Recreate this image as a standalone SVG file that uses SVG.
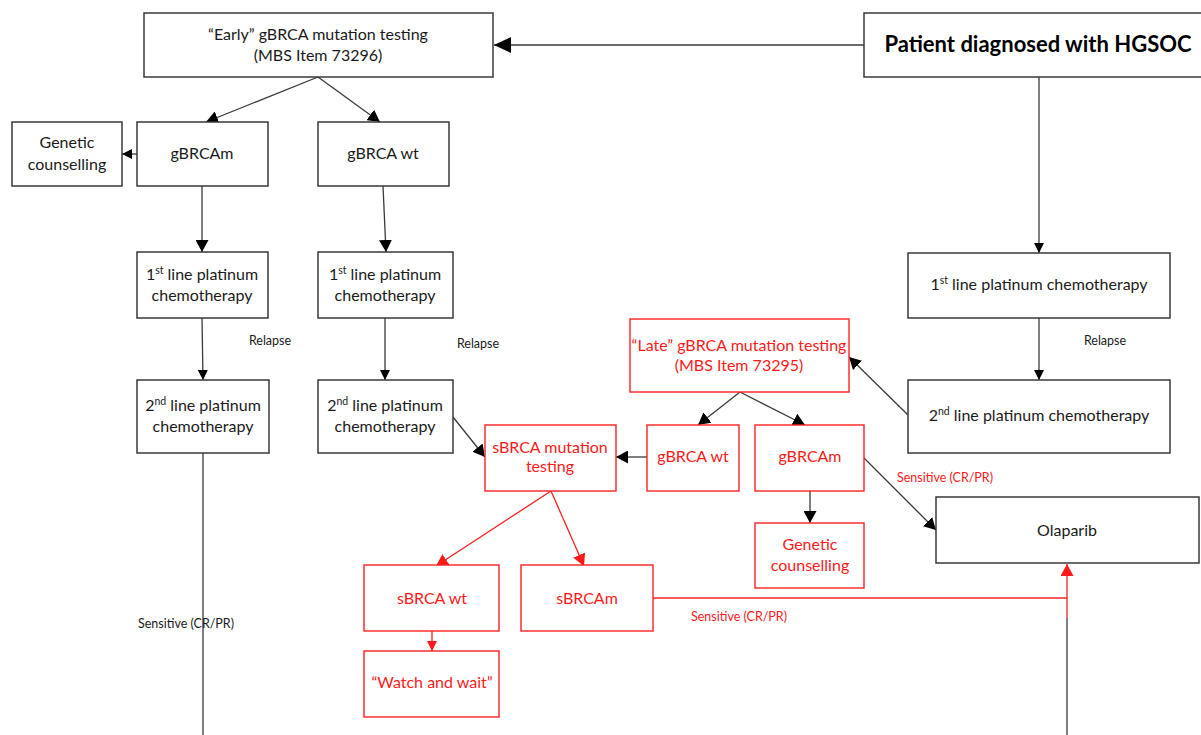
<svg xmlns="http://www.w3.org/2000/svg" width="1201" height="735" viewBox="0 0 1201 735">
<style>
.box{fill:#fff;stroke:#3a3a3a;stroke-width:1.5}
.rbox{fill:#fff;stroke:#ff2020;stroke-width:1.4}
.t{font-family:Lato,"Open Sans",sans-serif;font-size:16px;fill:#1a1a1a;text-anchor:middle}
.rt{font-family:Lato,"Open Sans",sans-serif;font-size:16px;fill:#ff1a1a;text-anchor:middle}
.lbl{font-family:Lato,"Open Sans",sans-serif;font-size:12.5px;fill:#1a1a1a;text-anchor:middle}
.rlbl{font-family:Lato,"Open Sans",sans-serif;font-size:12.5px;fill:#ff1a1a;text-anchor:middle}
.c{stroke:#3a3a3a;stroke-width:1.3;fill:none}
.rc{stroke:#ff2020;stroke-width:1.3;fill:none}
</style>
<defs>
<marker id="aL" markerUnits="userSpaceOnUse" markerWidth="18" markerHeight="16" refX="17" refY="8" orient="auto"><path d="M0,0 L17,8 L0,16 z" fill="#000"/></marker>
<marker id="aM" markerUnits="userSpaceOnUse" markerWidth="13" markerHeight="13" refX="12" refY="6.5" orient="auto"><path d="M0,0 L12,6.5 L0,13 z" fill="#000"/></marker>
<marker id="aS" markerUnits="userSpaceOnUse" markerWidth="11" markerHeight="10" refX="10" refY="5" orient="auto"><path d="M0,0 L10,5 L0,10 z" fill="#000"/></marker>
<marker id="rM" markerUnits="userSpaceOnUse" markerWidth="13" markerHeight="13" refX="12" refY="6.5" orient="auto"><path d="M0,0 L12,6.5 L0,13 z" fill="#ff1a1a"/></marker>
<marker id="rS" markerUnits="userSpaceOnUse" markerWidth="11" markerHeight="10" refX="10" refY="5" orient="auto"><path d="M0,0 L10,5 L0,10 z" fill="#ff1a1a"/></marker>
</defs>
<rect width="1201" height="735" fill="#fff"/>

<g id="connectors">
<line class="c" x1="864" y1="45" x2="494" y2="45" marker-end="url(#aL)"/>
<line class="c" x1="318" y1="77" x2="206" y2="122" marker-end="url(#aM)"/>
<line class="c" x1="318" y1="77" x2="380" y2="122" marker-end="url(#aM)"/>
<line class="c" x1="137" y1="154" x2="122" y2="154" marker-end="url(#aS)"/>
<line class="c" x1="202" y1="186" x2="202" y2="252" marker-end="url(#aM)"/>
<line class="c" x1="383" y1="186" x2="386" y2="252" marker-end="url(#aM)"/>
<line class="c" x1="202" y1="318" x2="203" y2="380" marker-end="url(#aS)"/>
<line class="c" x1="385" y1="318" x2="385" y2="380" marker-end="url(#aS)"/>
<line class="c" x1="453" y1="417" x2="485" y2="457" marker-end="url(#aM)"/>
<line class="c" x1="203" y1="453" x2="203" y2="735"/>
<line class="c" x1="1039" y1="77" x2="1039" y2="253" marker-end="url(#aS)"/>
<line class="c" x1="1039" y1="318" x2="1039" y2="380" marker-end="url(#aS)"/>
<line class="c" x1="908" y1="415" x2="849" y2="357" marker-end="url(#aM)"/>
<line class="c" x1="740" y1="392" x2="698" y2="425" marker-end="url(#aM)"/>
<line class="c" x1="740" y1="392" x2="805" y2="425" marker-end="url(#aM)"/>
<line class="c" x1="647" y1="457" x2="616" y2="457" marker-end="url(#aM)"/>
<line class="c" x1="810" y1="490" x2="810" y2="523" marker-end="url(#aM)"/>
<line class="c" x1="864" y1="458" x2="936" y2="530" marker-end="url(#aM)"/>
<line class="rc" x1="551" y1="491" x2="436" y2="566" marker-end="url(#rM)"/>
<line class="rc" x1="551" y1="491" x2="584" y2="566" marker-end="url(#rM)"/>
<line class="rc" x1="432" y1="631" x2="432" y2="651" marker-end="url(#rS)"/>
<line class="c" x1="1067" y1="735" x2="1067" y2="618"/>
<polyline class="rc" points="653,598 1067,598"/>
<line class="rc" x1="1067" y1="618" x2="1067" y2="564" marker-end="url(#rM)"/>
<text class="lbl" x="270" y="345">Relapse</text>
<text class="lbl" x="478" y="348">Relapse</text>
<text class="lbl" x="1105" y="345">Relapse</text>
<text class="lbl" x="186" y="628">Sensitive (CR/PR)</text>
<text class="rlbl" x="945" y="482">Sensitive (CR/PR)</text>
<text class="rlbl" x="739" y="621">Sensitive (CR/PR)</text>
</g>

<g id="early"><rect class="box" x="144" y="13" width="349" height="64"/>
<text class="t" x="318" y="40">“Early” gBRCA mutation testing</text>
<text class="t" x="318" y="61">(MBS Item 73296)</text></g>

<g id="patient"><rect class="box" x="864" y="13" width="360" height="64"/>
<text x="1038" y="52" style="font-family:Lato,'Open Sans',sans-serif;font-size:22px;font-weight:bold;fill:#000;text-anchor:middle">Patient diagnosed with HGSOC</text></g>

<g id="gencoun1"><rect class="box" x="12" y="122" width="110" height="64"/>
<text class="t" x="67" y="148">Genetic</text>
<text class="t" x="67" y="170">counselling</text></g>

<g id="gbrcam1"><rect class="box" x="137" y="122" width="131" height="64"/>
<text class="t" x="202" y="159">gBRCAm</text></g>

<g id="gbrcawt1"><rect class="box" x="318" y="122" width="131" height="64"/>
<text class="t" x="383" y="159">gBRCA wt</text></g>

<g id="first-l"><rect class="box" x="137" y="252" width="131" height="66"/>
<text class="t" x="202" y="280">1<tspan font-size="10.5" dy="-6">st</tspan><tspan dy="6"> line platinum</tspan></text>
<text class="t" x="202" y="301">chemotherapy</text></g>

<g id="first-m"><rect class="box" x="318" y="252" width="135" height="66"/>
<text class="t" x="385" y="280">1<tspan font-size="10.5" dy="-6">st</tspan><tspan dy="6"> line platinum</tspan></text>
<text class="t" x="385" y="301">chemotherapy</text></g>

<g id="second-l"><rect class="box" x="137" y="380" width="132" height="73"/>
<text class="t" x="203" y="411">2<tspan font-size="10.5" dy="-6">nd</tspan><tspan dy="6"> line platinum</tspan></text>
<text class="t" x="203" y="432">chemotherapy</text></g>

<g id="second-m"><rect class="box" x="318" y="380" width="135" height="73"/>
<text class="t" x="385" y="411">2<tspan font-size="10.5" dy="-6">nd</tspan><tspan dy="6"> line platinum</tspan></text>
<text class="t" x="385" y="432">chemotherapy</text></g>

<g id="first-r"><rect class="box" x="908" y="253" width="262" height="65"/>
<text class="t" x="1039" y="290">1<tspan font-size="10.5" dy="-6">st</tspan><tspan dy="6"> line platinum chemotherapy</tspan></text></g>

<g id="second-r"><rect class="box" x="908" y="380" width="262" height="73"/>
<text class="t" x="1039" y="421">2<tspan font-size="10.5" dy="-6">nd</tspan><tspan dy="6"> line platinum chemotherapy</tspan></text></g>

<g id="late"><rect class="rbox" x="630" y="319" width="219" height="73"/>
<text class="rt" x="739" y="351">“Late” gBRCA mutation testing</text>
<text class="rt" x="739" y="371">(MBS Item 73295)</text></g>

<g id="sbrca-test"><rect class="rbox" x="485" y="425" width="131" height="66"/>
<text class="rt" x="550" y="453">sBRCA mutation</text>
<text class="rt" x="550" y="472">testing</text></g>

<g id="gbrcawt2"><rect class="rbox" x="647" y="425" width="92" height="66"/>
<text class="rt" x="693" y="462">gBRCA wt</text></g>

<g id="gbrcam2"><rect class="rbox" x="755" y="425" width="109" height="66"/>
<text class="rt" x="810" y="462">gBRCAm</text></g>

<g id="gencoun2"><rect class="rbox" x="755" y="523" width="109" height="65"/>
<text class="rt" x="810" y="550">Genetic</text>
<text class="rt" x="810" y="571">counselling</text></g>

<g id="olaparib"><rect class="box" x="936" y="497" width="263" height="66"/>
<text class="t" x="1067" y="536">Olaparib</text></g>

<g id="sbrcawt"><rect class="rbox" x="364" y="565" width="135" height="66"/>
<text class="rt" x="432" y="604">sBRCA wt</text></g>

<g id="sbrcam"><rect class="rbox" x="521" y="565" width="132" height="66"/>
<text class="rt" x="587" y="604">sBRCAm</text></g>

<g id="watch"><rect class="rbox" x="364" y="651" width="135" height="66"/>
<text class="rt" x="432" y="688">“Watch and wait”</text></g>
</svg>
